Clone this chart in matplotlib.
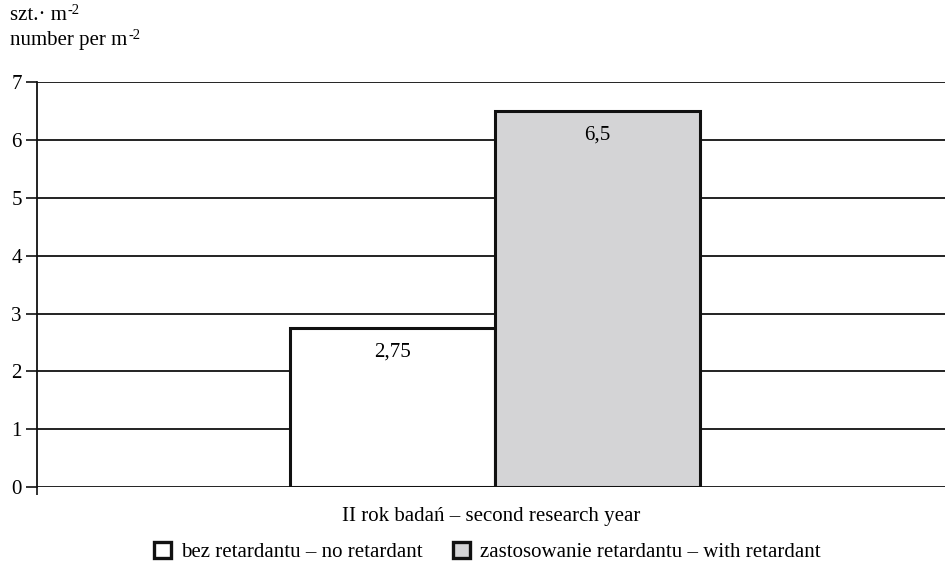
import matplotlib.pyplot as plt
from matplotlib.patches import Patch

plt.rcParams['font.family'] = ['Liberation Serif', 'DejaVu Serif']

series_labels = ['bez retardantu – no retardant',
                 'zastosowanie retardantu – with retardant']
values = [2.75, 6.5]
value_text = ['2,75', '6,5']
bar_colors = ['white', '#d4d4d6']
y_ticks = [0, 1, 2, 3, 4, 5, 6, 7]
fs = 15

fig = plt.figure(figsize=(9.48, 5.63), dpi=100)
ax = fig.add_axes([0.039, 0.135, 0.958, 0.719])

width = 0.4515
center = 0.009
offsets = [center - width / 2, center + width / 2]
for off, v, txt, c in zip(offsets, values, value_text, bar_colors):
    ax.bar(off, v, width=width, color=c, edgecolor='#111111',
           linewidth=2.2, zorder=3)
    ax.text(off, v - 0.42, txt, ha='center', va='center',
            fontsize=fs, zorder=4)

ax.set_xlim(-1, 1)
ax.set_ylim(0, 7)
ax.set_yticks(y_ticks)
ax.set_yticklabels([str(t) for t in y_ticks], fontsize=fs)
ax.yaxis.grid(True, color='#111111', linewidth=1.3, zorder=1)
ax.set_xticks([-1])
ax.set_xticklabels([''])
ax.tick_params(axis='y', direction='out', length=8, width=1.2, pad=3,
               color='#111111')
ax.tick_params(axis='x', direction='out', length=6, width=1.2,
               color='#111111')

for side in ['top', 'right', 'bottom']:
    ax.spines[side].set_visible(False)
ax.spines['left'].set_linewidth(1.3)
ax.spines['left'].set_color('#111111')

ax.set_xlabel('II rok badań – second research year', fontsize=fs,
              labelpad=5)

# unit label with superscripts drawn as separate small texts
for y, txt in [(0.964, 'szt.· m'), (0.92, 'number per m')]:
    t = fig.text(0.011, y, txt, fontsize=fs, va='baseline')
    ax.annotate('-2', xy=(1, 0), xycoords=t, xytext=(0.5, 8),
                textcoords='offset points', fontsize=10.5, va='baseline')

handles = [Patch(facecolor=c, edgecolor='#111111', linewidth=2.4)
           for c in bar_colors]
fig.legend(handles, series_labels, loc='center', ncol=2, frameon=False,
           bbox_to_anchor=(0.514, 0.02), fontsize=fs,
           handlelength=0.8, handleheight=0.8, handletextpad=0.5,
           columnspacing=1.45, borderaxespad=0, borderpad=0)

fig.savefig('out.png', dpi=100)
